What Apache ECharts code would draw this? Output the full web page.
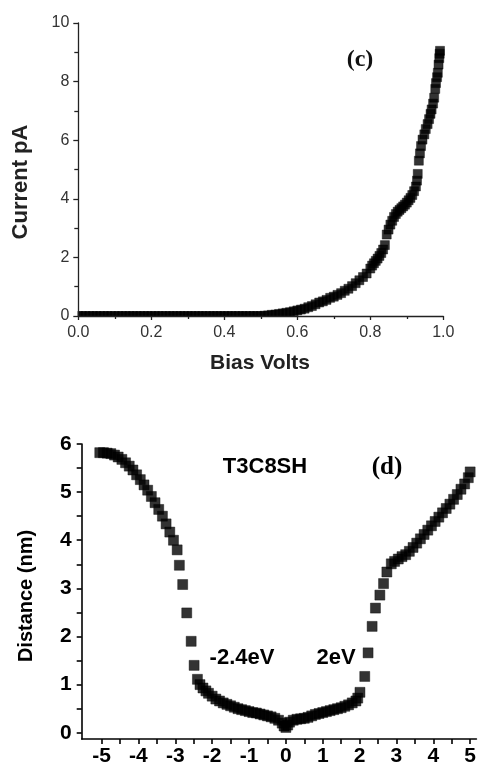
<!DOCTYPE html>
<html>
<head>
<meta charset="utf-8">
<script src="https://cdn.jsdelivr.net/npm/echarts@6/dist/echarts.min.js"></script>
<style>html,body{margin:0;padding:0;background:#fff}#c{width:479px;height:767px}</style>
</head>
<body>
<div id="c"></div>
<script>
// ---- Panel (c): I-V curve ----
var biasVolts = [
  0.00,0.01,0.02,0.03,0.04,0.05,0.06,0.07,0.08,0.09,
  0.10,0.11,0.12,0.13,0.14,0.15,0.16,0.17,0.18,0.19,
  0.20,0.21,0.22,0.23,0.24,0.25,0.26,0.27,0.28,0.29,
  0.30,0.31,0.32,0.33,0.34,0.35,0.36,0.37,0.38,0.39,
  0.40,0.41,0.42,0.43,0.44,0.45,0.46,0.47,0.48,0.49,
  0.50,0.51,0.52,0.53,0.54,0.55,0.56,0.57,0.58,0.59,
  0.60,0.61,0.62,0.63,0.64,0.65,0.66,0.67,0.68,0.69,
  0.70,0.71,0.72,0.73,0.74,0.75,0.76,0.77,0.78,0.79,
  0.80,0.805,0.81,0.815,0.82,0.825,0.83,0.835,0.84,0.845,
  0.85,0.855,0.86,0.865,0.87,0.875,0.88,0.885,0.89,0.895,
  0.90,0.905,0.91,0.915,0.92,0.925,0.928,0.93,0.933,0.936,
  0.939,0.943,0.948,0.952,0.957,0.961,0.965,0.968,0.972,0.975,
  0.978,0.98,0.983,0.985,0.987,0.989,0.99,0.991
];
var currentPA = [
  0,0,0,0,0,0,0,0,0,0,
  0,0,0,0,0,0,0,0,0,0,
  0,0,0,0,0,0,0,0,0,0,
  0,0,0,0,0,0,0,0,0,0,
  0,0,0,0,0,0,0,0,0,0,
  0.00,0.01,0.02,0.04,0.05,0.07,0.09,0.11,0.13,0.16,
  0.19,0.22,0.25,0.30,0.34,0.40,0.46,0.50,0.55,0.62,
  0.66,0.72,0.78,0.86,0.93,1.02,1.12,1.22,1.33,1.45,
  1.62,1.72,1.80,1.88,1.96,2.05,2.15,2.27,2.42,2.78,
  2.95,3.12,3.25,3.38,3.48,3.56,3.62,3.68,3.74,3.80,
  3.87,3.95,4.03,4.13,4.26,4.42,4.62,4.85,5.30,5.55,
  5.80,6.02,6.20,6.38,6.55,6.72,6.90,7.05,7.25,7.45,
  7.75,7.95,8.15,8.30,8.58,8.80,8.95,9.05
];
var xTicksC = [0, 0.2, 0.4, 0.6, 0.8, 1.0];
var yTicksC = [0, 2, 4, 6, 8, 10];

// ---- Panel (d): distance vs energy ----
var energyEV = [
  -5.05,-4.95,-4.85,-4.75,-4.65,-4.55,-4.45,-4.35,-4.25,-4.15,
  -4.05,-3.95,-3.85,-3.75,-3.65,-3.55,-3.45,-3.35,-3.25,-3.15,
  -3.05,-2.95,-2.89,-2.80,-2.69,-2.57,-2.49,-2.40,-2.33,-2.25,
  -2.17,-2.10,-2.00,-1.90,-1.80,-1.70,-1.60,-1.50,-1.40,-1.30,
  -1.20,-1.10,-1.00,-0.90,-0.80,-0.70,-0.60,-0.50,-0.40,-0.30,
  -0.20,-0.10,-0.05,0.00,0.05,0.10,0.20,0.30,0.40,0.50,
  0.60,0.70,0.80,0.90,1.00,1.10,1.20,1.30,1.40,1.50,
  1.60,1.70,1.80,1.90,1.95,2.01,2.14,2.23,2.34,2.43,
  2.55,2.65,2.74,2.86,2.95,3.05,3.15,3.25,3.35,3.45,
  3.55,3.65,3.75,3.85,3.95,4.05,4.15,4.25,4.35,4.45,
  4.55,4.65,4.75,4.85,4.95,5.00
];
var distanceNm = [
  5.82,5.82,5.81,5.80,5.77,5.73,5.68,5.61,5.54,5.46,
  5.36,5.26,5.15,5.04,4.91,4.78,4.64,4.50,4.34,4.17,
  4.00,3.80,3.48,3.08,2.49,1.90,1.40,1.11,1.00,0.93,
  0.87,0.82,0.76,0.70,0.66,0.62,0.59,0.56,0.53,0.50,
  0.48,0.46,0.44,0.42,0.41,0.39,0.37,0.35,0.33,0.30,
  0.26,0.20,0.14,0.11,0.16,0.22,0.26,0.28,0.29,0.30,
  0.32,0.35,0.38,0.40,0.42,0.44,0.46,0.48,0.50,0.52,
  0.55,0.58,0.62,0.66,0.72,0.84,1.17,1.66,2.21,2.59,
  2.86,3.10,3.34,3.51,3.56,3.61,3.66,3.70,3.77,3.85,
  3.94,4.03,4.12,4.21,4.30,4.39,4.48,4.57,4.66,4.75,
  4.85,4.95,5.06,5.17,5.30,5.42
];
var xTicksD = [-5, -4, -3, -2, -1, 0, 1, 2, 3, 4, 5];
var xMinorD = [-5, -4.5, -4, -3.5, -3, -2.5, -2, -1.5, -1, -0.5, 0, 0.5, 1, 1.5, 2, 2.5, 3, 3.5, 4, 4.5, 5];
var yTicksD = [0, 1, 2, 3, 4, 5, 6];
var yMinorD = [0, 0.5, 1, 1.5, 2, 2.5, 3, 3.5, 4, 4.5, 5, 5.5, 6];

function pairs(xs, ys) { return xs.map(function (x, i) { return [x, ys[i]]; }); }

var SANS = 'Liberation Sans, Arial, sans-serif';
var SERIF = 'Liberation Serif, Times New Roman, serif';

var chart = echarts.init(document.getElementById('c'), null, { renderer: 'canvas' });

var axC = { color: '#222', width: 1.3 };
var axD = { color: '#000', width: 1.6 };

chart.setOption({
  animation: false,
  backgroundColor: '#fff',
  grid: [
    { left: 78.3, top: 23, width: 365, height: 293 },
    { left: 81.7, top: 444, right: 0, bottom: 25.3 }
  ],
  xAxis: [
    {
      gridIndex: 0, type: 'value', min: 0, max: 1, interval: 0.2, z: 10,
      axisLine: { onZero: false, lineStyle: axC },
      axisTick: { show: true, length: 4, inside: false, lineStyle: axC },
      minorTick: { show: true, splitNumber: 2, length: 3, lineStyle: axC },
      splitLine: { show: false },
      axisLabel: {
        margin: 9, color: '#333', fontFamily: SANS, fontSize: 16,
        formatter: function (v) { return xTicksC.indexOf(Math.round(v * 10) / 10) >= 0 ? v.toFixed(1) : ''; }
      }
    },
    {
      gridIndex: 1, type: 'value', min: -5.54, max: 5.17, z: 10,
      axisLine: { onZero: false, lineStyle: axD },
      axisTick: { show: true, length: 5, inside: false, lineStyle: axD, customValues: xMinorD },
      splitLine: { show: false },
      axisLabel: {
        margin: 7, color: '#000', fontFamily: SANS, fontSize: 21, fontWeight: 'bold',
        customValues: xTicksD,
        formatter: function (v) { return String(v); }
      }
    }
  ],
  yAxis: [
    {
      gridIndex: 0, type: 'value', min: 0, max: 10, interval: 2, z: 10,
      axisLine: { show: true, onZero: false, lineStyle: axC },
      axisTick: { show: true, length: 5, inside: false, lineStyle: axC },
      minorTick: { show: true, splitNumber: 2, length: 4, lineStyle: axC },
      splitLine: { show: false },
      axisLabel: {
        margin: 9, color: '#333', fontFamily: SANS, fontSize: 16,
        formatter: function (v) { return yTicksC.indexOf(v) >= 0 ? String(v) : ''; }
      }
    },
    {
      gridIndex: 1, type: 'value', min: -0.13, max: 6, z: 10,
      axisLine: { show: true, onZero: false, lineStyle: axD },
      axisTick: { show: true, length: 5, inside: false, lineStyle: axD, customValues: yMinorD },
      splitLine: { show: false },
      axisLabel: {
        margin: 10, color: '#000', fontFamily: SANS, fontSize: 21, fontWeight: 'bold',
        customValues: yTicksD,
        formatter: function (v) { return String(v); }
      }
    }
  ],
  series: [
    {
      type: 'scatter', xAxisIndex: 0, yAxisIndex: 0, z: 2,
      symbol: 'rect', symbolSize: 9, clip: false,
      itemStyle: { color: '#000', borderColor: '#000', borderWidth: 0.5 },
      data: pairs(biasVolts, currentPA)
    },
    {
      type: 'scatter', xAxisIndex: 1, yAxisIndex: 1, z: 2,
      symbol: 'rect', symbolSize: 10, clip: false,
      itemStyle: { color: '#000', borderColor: '#000', borderWidth: 0.5 },
      data: pairs(energyEV, distanceNm)
    }
  ],
  graphic: [
    // cover marker overflow outside the (c) plot frame
    { type: 'rect', z: 5, silent: true, shape: { x: 60, y: 316.7, width: 392, height: 8 }, style: { fill: '#fff' } },
    { type: 'rect', z: 5, silent: true, shape: { x: 60, y: 290, width: 17.6, height: 30 }, style: { fill: '#fff' } },
    // axis titles
    { type: 'text', z: 20, x: 21, y: 182, rotation: Math.PI / 2,
      style: { text: 'Current pA', x: 0, y: 0, align: 'center', verticalAlign: 'middle', font: 'bold 22px ' + SANS, fill: '#222' } },
    { type: 'text', z: 20, x: 260, y: 363,
      style: { text: 'Bias Volts', x: 0, y: 0, align: 'center', verticalAlign: 'middle', font: 'bold 21px ' + SANS, fill: '#222' } },
    { type: 'text', z: 20, x: 26, y: 596, rotation: Math.PI / 2,
      style: { text: 'Distance (nm)', x: 0, y: 0, align: 'center', verticalAlign: 'middle', font: 'bold 20px ' + SANS, fill: '#000' } },
    // annotations
    { type: 'text', z: 20, x: 360, y: 60,
      style: { text: '(c)', x: 0, y: 0, align: 'center', verticalAlign: 'middle', font: 'bold 24px ' + SERIF, fill: '#111' } },
    { type: 'text', z: 20, x: 265, y: 467,
      style: { text: 'T3C8SH', x: 0, y: 0, align: 'center', verticalAlign: 'middle', font: 'bold 22px ' + SANS, fill: '#000' } },
    { type: 'text', z: 20, x: 387, y: 468,
      style: { text: '(d)', x: 0, y: 0, align: 'center', verticalAlign: 'middle', font: 'bold 25px ' + SERIF, fill: '#000' } },
    { type: 'text', z: 20, x: 242, y: 658,
      style: { text: '-2.4eV', x: 0, y: 0, align: 'center', verticalAlign: 'middle', font: 'bold 22px ' + SANS, fill: '#000' } },
    { type: 'text', z: 20, x: 336, y: 658,
      style: { text: '2eV', x: 0, y: 0, align: 'center', verticalAlign: 'middle', font: 'bold 22px ' + SANS, fill: '#000' } }
  ]
});
</script>
</body>
</html>
